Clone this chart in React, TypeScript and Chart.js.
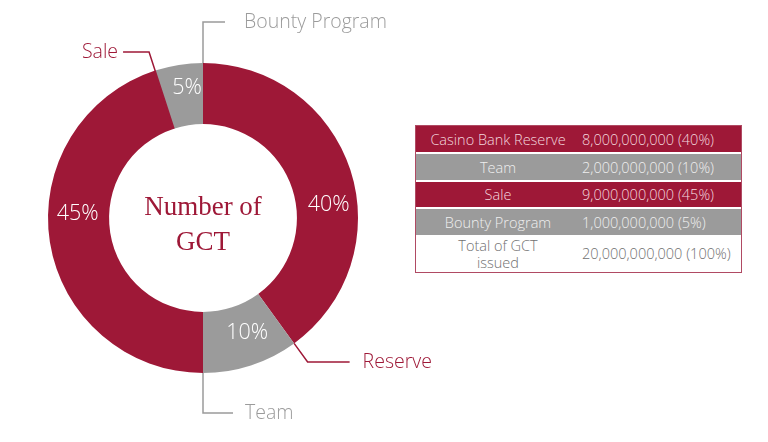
import React, { useEffect, useRef } from "react";
import { Chart, registerables } from "chart.js";

Chart.register(...registerables);

const categories = ["Reserve", "Team", "Sale", "Bounty Program"];
const shares = [40, 10, 45, 5];
const sliceColors = ["#9E1837", "#9B9B9B", "#9E1837", "#9B9B9B"];
const calloutColors = ["#9E1837", "#9B9B9B", "#9E1837", "#9B9B9B"];

const tableNames = ["Casino Bank Reserve", "Team", "Sale", "Bounty Program", "Total of GCT issued"];
const tableAmounts = ["8,000,000,000", "2,000,000,000", "9,000,000,000", "1,000,000,000", "20,000,000,000"];
const tablePercents = ["40%", "10%", "45%", "5%", "100%"];

const centerLines = ["Number of", "GCT"];

const RED = "#9E1837";
const GRAY = "#9B9B9B";
const SANS = '"Open Sans", Lato, "Liberation Sans", sans-serif';

// per-slice callout layout (leader from slice end boundary)
const callouts = [
  { from: "outer", elbowY: 362, horiz: 42, side: "right", gap: 13 },
  { from: "outer", elbowY: 413, horiz: 30, side: "right", gap: 12 },
  { from: "inner", elbowY: 52, horiz: 26, side: "left", gap: 5 },
  { from: "outer", elbowY: 22, horiz: 22, side: "right", gap: 19 },
];
const pctAngleOffsetDeg = [12, -3, 11, 2];
const pctRadiusShift = [2, -1, 1, 7];

const overlayPlugin = {
  id: "overlay",
  afterDatasetsDraw(chart: any) {
    const ctx = chart.ctx;
    const meta = chart.getDatasetMeta(0);
    ctx.save();
    meta.data.forEach((arc: any, i: number) => {
      const p = arc.getProps(["x", "y", "startAngle", "endAngle", "innerRadius", "outerRadius"], true);
      const cx = p.x, cy = p.y;
      const mid = (p.startAngle + p.endAngle) / 2 + (pctAngleOffsetDeg[i] * Math.PI) / 180;
      const r = (p.innerRadius + p.outerRadius) / 2 + pctRadiusShift[i];
      ctx.fillStyle = "#FFFFFF";
      ctx.font = `300 21.5px ${SANS}`;
      ctx.textAlign = "center";
      ctx.textBaseline = "middle";
      ctx.fillText(`${shares[i]}%`, cx + r * Math.cos(mid), cy + r * Math.sin(mid));

      const c = callouts[i];
      const a = p.endAngle;
      const r0 = c.from === "inner" ? p.innerRadius : p.outerRadius;
      const sx = cx + r0 * Math.cos(a);
      const sy = cy + r0 * Math.sin(a);
      const sin = Math.sin(a);
      const re = Math.abs(sin) > 1e-6 ? (c.elbowY - cy) / sin : r0;
      const ex = cx + re * Math.cos(a);
      const ey = c.elbowY;
      const dir = c.side === "right" ? 1 : -1;
      const hx = ex + dir * c.horiz;
      ctx.strokeStyle = calloutColors[i];
      ctx.lineWidth = 1.5;
      ctx.beginPath();
      ctx.moveTo(sx, sy);
      ctx.lineTo(ex, ey);
      ctx.lineTo(hx, ey);
      ctx.stroke();
      ctx.fillStyle = calloutColors[i];
      ctx.font = `300 19.5px ${SANS}`;
      ctx.textAlign = c.side === "right" ? "left" : "right";
      ctx.textBaseline = "middle";
      ctx.fillText(categories[i], hx + dir * c.gap, ey);
    });
    const first = meta.data[0];
    if (first) {
      const cx = first.x, cy = first.y;
      ctx.fillStyle = RED;
      ctx.font = '27px "Liberation Serif", "DejaVu Serif", serif';
      ctx.textAlign = "center";
      ctx.textBaseline = "alphabetic";
      ctx.fillText(centerLines[0], cx, cy - 3);
      ctx.fillText(centerLines[1], cx, cy + 32);
    }
    ctx.restore();
  },
};

export default function App() {
  const ref = useRef<HTMLCanvasElement | null>(null);
  useEffect(() => {
    document.body.style.margin = "0";
    if (!ref.current) return;
    const chart = new Chart(ref.current, {
      type: "doughnut",
      data: {
        labels: categories,
        datasets: [
          {
            data: shares,
            backgroundColor: sliceColors,
            borderWidth: 0,
            hoverOffset: 0,
          },
        ],
      },
      options: {
        animation: false,
        responsive: false,
        devicePixelRatio: 1,
        cutout: "60.6%",
        layout: { padding: { left: 48, top: 63, right: 410, bottom: 69 } },
        plugins: { legend: { display: false }, tooltip: { enabled: false } },
      },
      plugins: [overlayPlugin],
    });
    return () => chart.destroy();
  }, []);

  const rowFills = [RED, GRAY, RED, GRAY, "#FFFFFF"];
  const rowText = ["#F3D7DE", "#EFEFEF", "#F3D7DE", "#EFEFEF", "#707070"];
  const rowHeights = [26, 26, 25, 26, 37];

  return (
    <div style={{ position: "relative", width: 768, height: 442, background: "#FFFFFF", overflow: "hidden" }}>
      <canvas ref={ref} width={768} height={442} style={{ position: "absolute", left: 0, top: 0 }} />
      <div
        style={{
          position: "absolute",
          left: 415,
          top: 125,
          width: 327,
          height: 148,
          boxSizing: "border-box",
          border: "1px solid #B04A63",
          background: "#FFFFFF",
          fontFamily: SANS,
          fontWeight: 300,
          fontSize: 14.5,
        }}
      >
        {tableNames.map((name, i) => (
          <div
            key={name}
            style={{
              display: "flex",
              height: rowHeights[i],
              marginBottom: i < 3 ? 2 : 0,
              background: rowFills[i],
              color: rowText[i],
              alignItems: "center",
            }}
          >
            <div style={{ width: 164, textAlign: "center", lineHeight: "17px" }}>
              {i === 4 ? (
                <>
                  Total of GCT
                  <br />
                  issued
                </>
              ) : (
                name
              )}
            </div>
            <div style={{ paddingLeft: 2, whiteSpace: "nowrap" }}>
              {tableAmounts[i]} ({tablePercents[i]})
            </div>
          </div>
        ))}
      </div>
    </div>
  );
}
